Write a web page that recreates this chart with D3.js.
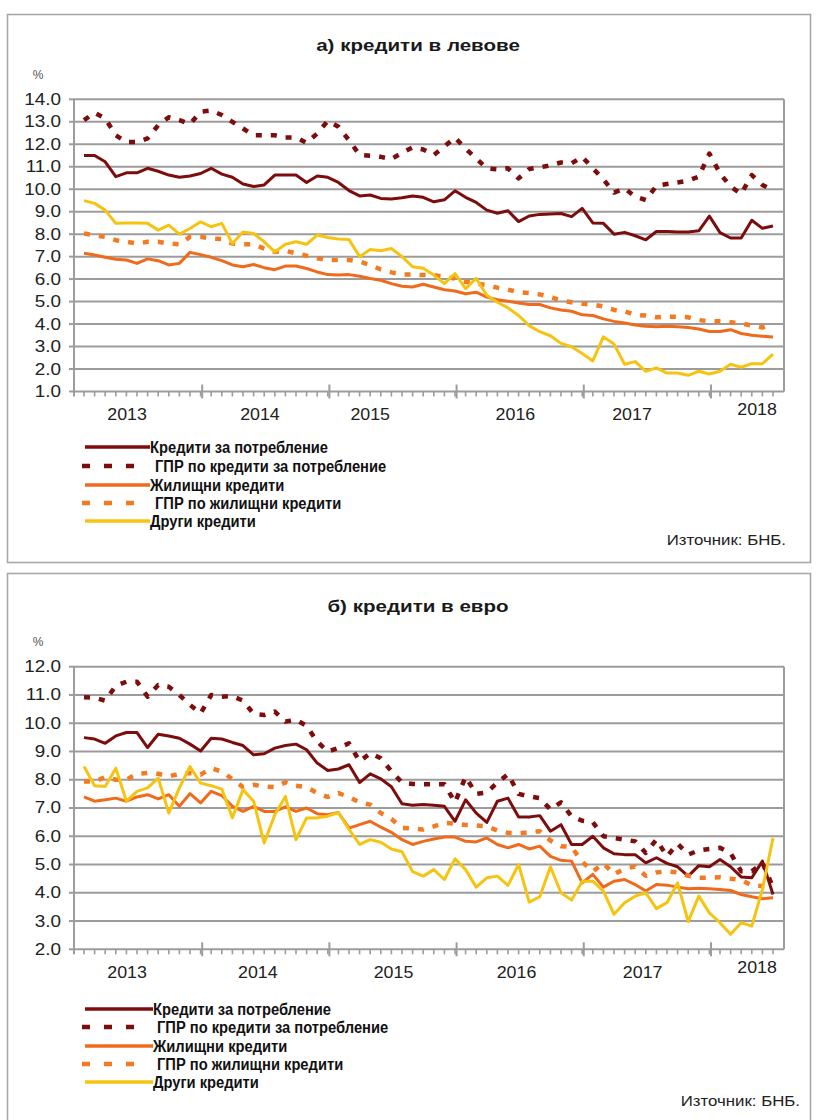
<!DOCTYPE html>
<html><head><meta charset="utf-8">
<script src="https://cdn.jsdelivr.net/npm/d3@7"></script>
<style>body{margin:0;background:#fff} svg{display:block}</style>
</head><body>
<svg id="c" width="817" height="1120"></svg>
<script>
// ---------- DATA ----------
const seriesNames = ["Кредити за потребление","ГПР по кредити за потребление","Жилищни кредити","ГПР по жилищни кредити","Други кредити"];
const yearLabels = ["2013","2014","2015","2016","2017","2018"];
const yearStarts = [12,24,36,48,60]; // month index where each new year begins (Jan 2013 = 0)
const nMonths = 66; // Jan 2013 .. Jun 2018

// panel a) loans in leva
const levConsumer = [11.5,11.5,11.22,10.56,10.73,10.73,10.93,10.8,10.63,10.53,10.59,10.7,10.93,10.67,10.53,10.23,10.12,10.19,10.63,10.63,10.63,10.3,10.59,10.53,10.3,9.94,9.7,9.74,9.59,9.56,9.62,9.7,9.64,9.44,9.53,9.93,9.64,9.41,9.07,8.93,9.04,8.56,8.81,8.88,8.9,8.92,8.78,9.15,8.5,8.48,8.0,8.08,7.93,7.75,8.12,8.12,8.1,8.1,8.15,8.8,8.07,7.83,7.83,8.62,8.26,8.36];
const levConsumerAPR = [13.07,13.4,13.15,12.4,12.1,12.1,12.26,12.85,13.2,13.07,12.9,13.45,13.5,13.3,13.0,12.7,12.4,12.4,12.4,12.3,12.3,12.06,12.48,13.04,12.78,12.18,11.52,11.49,11.44,11.34,11.62,11.86,11.77,11.52,11.9,12.3,11.8,11.37,10.93,10.88,10.93,10.48,10.9,10.97,11.06,11.19,11.15,11.44,10.93,10.44,9.85,10.04,9.67,9.52,10.15,10.23,10.3,10.38,10.56,11.59,10.7,10.12,9.79,10.63,10.19,9.95];
const levHousing = [7.15,7.07,6.97,6.88,6.85,6.7,6.9,6.82,6.63,6.7,7.19,7.09,6.97,6.82,6.63,6.55,6.65,6.51,6.42,6.58,6.58,6.47,6.32,6.2,6.18,6.2,6.13,6.03,5.95,5.8,5.68,5.65,5.77,5.65,5.53,5.47,5.35,5.42,5.2,5.08,5.02,4.94,4.87,4.87,4.72,4.63,4.57,4.41,4.38,4.23,4.12,4.05,3.96,3.9,3.88,3.9,3.88,3.85,3.78,3.67,3.67,3.75,3.58,3.5,3.46,3.43];
const levHousingAPR = [8.03,7.95,7.88,7.73,7.66,7.58,7.66,7.66,7.58,7.55,7.88,7.88,7.8,7.78,7.58,7.55,7.55,7.36,7.21,7.26,7.15,7.04,6.93,6.85,6.85,6.85,6.78,6.63,6.43,6.3,6.2,6.2,6.18,6.18,6.1,6.03,5.88,5.8,5.73,5.62,5.53,5.42,5.38,5.32,5.2,5.05,4.97,4.9,4.87,4.78,4.63,4.57,4.41,4.38,4.3,4.33,4.33,4.3,4.18,4.12,4.12,4.08,4.03,3.93,3.85,4.03];
const levOther = [9.49,9.37,9.07,8.48,8.5,8.5,8.48,8.18,8.4,8.0,8.25,8.55,8.33,8.48,7.58,8.1,8.03,7.66,7.21,7.55,7.66,7.55,7.96,7.85,7.78,7.76,7.0,7.32,7.26,7.36,7.0,6.55,6.48,6.18,5.8,6.25,5.58,6.03,5.28,4.97,4.72,4.38,3.93,3.66,3.48,3.14,2.99,2.69,2.36,3.43,3.11,2.21,2.33,1.9,2.05,1.82,1.82,1.72,1.9,1.78,1.9,2.21,2.08,2.24,2.24,2.66];

// panel b) loans in euro
const eurConsumer = [9.49,9.44,9.29,9.55,9.67,9.67,9.14,9.61,9.55,9.47,9.26,9.02,9.47,9.44,9.32,9.21,8.88,8.92,9.12,9.21,9.26,9.06,8.59,8.33,8.38,8.53,7.9,8.21,8.03,7.75,7.15,7.1,7.12,7.1,7.06,6.53,7.29,6.82,6.49,7.24,7.35,6.68,6.68,6.73,6.18,6.41,5.71,5.71,6.0,5.59,5.38,5.35,5.35,5.06,5.24,5.04,4.92,4.59,4.96,4.92,5.18,4.92,4.56,4.53,5.12,3.94];
const eurConsumerAPR = [10.92,10.9,10.8,11.32,11.47,11.47,10.94,11.35,11.29,11.0,10.65,10.35,11.0,10.94,10.96,10.8,10.33,10.29,10.41,10.06,10.12,9.91,9.35,9.0,9.12,9.29,8.65,8.94,8.76,8.3,7.9,7.85,7.84,7.84,7.84,7.2,8.1,7.5,7.55,7.9,8.2,7.5,7.41,7.35,6.95,7.2,6.7,6.55,6.5,6.0,5.94,5.88,5.82,5.41,5.88,5.29,5.74,5.35,5.5,5.55,5.59,5.4,4.76,4.76,5.06,4.2];
const eurHousing = [7.39,7.24,7.29,7.35,7.24,7.39,7.47,7.32,7.47,7.06,7.51,7.18,7.59,7.44,7.06,6.88,7.06,6.88,6.88,7.04,6.88,7.0,6.8,6.76,6.84,6.29,6.41,6.53,6.32,6.14,5.88,5.71,5.82,5.9,5.97,5.97,5.82,5.8,5.94,5.71,5.59,5.71,5.55,5.65,5.29,5.15,5.12,4.35,4.65,4.2,4.41,4.47,4.29,4.06,4.29,4.27,4.2,4.14,4.16,4.14,4.12,4.08,3.94,3.86,3.79,3.82];
const eurHousingAPR = [7.94,7.94,8.09,8.0,8.0,8.21,8.24,8.21,8.12,8.21,8.24,8.18,8.41,8.29,8.02,7.74,7.82,7.76,7.74,7.91,7.79,7.74,7.53,7.39,7.53,7.39,7.2,7.12,6.82,6.61,6.29,6.28,6.24,6.35,6.47,6.45,6.4,6.38,6.35,6.2,6.12,6.1,6.14,6.18,5.85,5.65,5.62,5.1,4.75,5.05,4.65,4.85,4.93,4.6,4.72,4.76,4.72,4.6,4.53,4.53,4.55,4.5,4.45,4.26,4.24,4.25];
const eurOther = [8.47,7.79,7.76,8.41,7.24,7.59,7.71,8.06,6.82,7.71,8.47,7.88,7.79,7.67,6.65,7.65,7.24,5.76,6.76,7.41,5.88,6.65,6.65,6.71,6.84,6.24,5.71,5.88,5.79,5.55,5.45,4.75,4.59,4.82,4.47,5.2,4.82,4.2,4.53,4.59,4.26,5.0,3.67,3.86,4.92,4.0,3.74,4.41,4.41,4.06,3.24,3.65,3.88,4.0,3.44,3.65,4.35,2.98,3.88,3.29,2.94,2.53,2.94,2.82,4.12,5.94];

const levTicks = [1,2,3,4,5,6,7,8,9,10,11,12,13,14];
const eurTicks = [2,3,4,5,6,7,8,9,10,11,12];
// year label positions on the month axis (as drawn in the source)
const levYearPos = [4.06,16.6,27.0,40.7,51.7,63.5];
const eurYearPos = [4.06,16.4,29.2,40.8,52.7,63.5];

// ---------- STYLE ----------
const colors = ["#7d0c0c","#7d0c0c","#f06a1c","#f47a22","#f6c410"];
const dashed = [false,true,false,true,false];
const svg = d3.select("#c");

function txt(g, x, y, s, o){
  return g.append("text")
    .attr("transform", `translate(${x},${y}) scale(${o.sx||1},1)`)
    .attr("text-anchor", o.anchor||"start")
    .attr("dominant-baseline","central")
    .attr("font-family", o.family||"'Liberation Sans', Arial, sans-serif")
    .attr("font-size", o.size||14)
    .attr("font-weight", o.weight||"normal")
    .attr("fill", o.fill||"#1a1a1a")
    .text(s);
}

function panel(cfg){
  const g = svg.append("g");
  // frame
  g.append("rect").attr("x",7.5).attr("y",cfg.frameTop).attr("width",803).attr("height",cfg.frameH)
    .attr("fill","#fff").attr("stroke","#a8a8a8").attr("stroke-width",1.6);
  txt(g, 418, cfg.titleY, cfg.title, {size:17, weight:"bold", anchor:"middle", sx:1.21});
  txt(g, 38, cfg.pctY, "%", {size:12, anchor:"middle", fill:"#555"});

  const x = d3.scaleLinear().domain([0, nMonths-1]).range([84, 773]);
  const y = d3.scaleLinear().domain(cfg.yDomain).range([cfg.yBottom, cfg.yTop]);
  const L = 74, R = 784;

  // gridlines
  g.selectAll(".grid").data(cfg.ticks).join("line")
    .attr("x1",L).attr("x2",R).attr("y1",d=>y(d)).attr("y2",d=>y(d))
    .attr("stroke","#9c9c9c").attr("stroke-width",2);
  // right border + left axis
  g.append("line").attr("x1",R).attr("x2",R).attr("y1",y(cfg.yDomain[1])).attr("y2",y(cfg.yDomain[0]))
    .attr("stroke","#9c9c9c").attr("stroke-width",2);
  g.append("line").attr("x1",L).attr("x2",L).attr("y1",y(cfg.yDomain[1])).attr("y2",y(cfg.yDomain[0])+5)
    .attr("stroke","#9c9c9c").attr("stroke-width",2);
  // left ticks + labels
  g.selectAll(".lt").data(cfg.ticks).join("line")
    .attr("x1",L-5).attr("x2",L).attr("y1",d=>y(d)).attr("y2",d=>y(d))
    .attr("stroke","#9c9c9c").attr("stroke-width",2);
  cfg.ticks.forEach(t => txt(g, 61, y(t), d3.format(".1f")(t), {size:16, anchor:"end", sx:1.18, fill:"#222"}));
  // bottom minor/major ticks
  const yb = y(cfg.yDomain[0]);
  g.selectAll(".mt").data(d3.range(nMonths)).join("line")
    .attr("x1",d=>x(d)).attr("x2",d=>x(d)).attr("y1",yb).attr("y2",yb+5)
    .attr("stroke","#9c9c9c").attr("stroke-width",1.6);
  g.selectAll(".Mt").data(yearStarts).join("line")
    .attr("x1",d=>x(d-0.85)).attr("x2",d=>x(d-0.85)).attr("y1",yb-7).attr("y2",yb+7)
    .attr("stroke","#9c9c9c").attr("stroke-width",2);
  yearLabels.forEach((lab,i)=>{
    txt(g, x(cfg.yearPos[i]), yb + (i===5 ? 18 : 23), lab, {size:16.5, anchor:"middle", sx:1.08, fill:"#222"});
  });

  // series
  const line = d3.line().x((d,i)=>x(i)).y(d=>y(d)).curve(d3.curveLinear);
  cfg.series.forEach((s,k)=>{
    g.append("path").datum(s).attr("d",line).attr("fill","none")
      .attr("stroke",colors[k])
      .attr("stroke-width", dashed[k] ? 4.5 : 3)
      .attr("stroke-dasharray", dashed[k] ? "6,9" : null)
      .attr("stroke-linejoin","round");
  });

  // legend
  cfg.legendY.forEach((ly,k)=>{
    if (dashed[k]) {
      g.append("line").attr("x1",82).attr("x2",137).attr("y1",ly).attr("y2",ly)
        .attr("stroke",colors[k]).attr("stroke-width",4.5).attr("stroke-dasharray","8,14");
    } else {
      g.append("line").attr("x1",85).attr("x2",cfg.legSolidEnd).attr("y1",ly).attr("y2",ly)
        .attr("stroke",colors[k]).attr("stroke-width",3.5);
    }
    txt(g, dashed[k] ? cfg.legDashText : cfg.legSolidEnd, ly, seriesNames[k], {size:16, weight:"bold", sx:0.92, fill:"#111"});
  });
  txt(g, cfg.srcX, cfg.srcY, "Източник: БНБ.", {size:14.5, anchor:"end", sx:1.16, fill:"#222"});
}

panel({
  frameTop:14.5, frameH:548, title:"а) кредити в левове", titleY:45, pctY:75,
  yDomain:[1,14], yTop:99.3, yBottom:391.5, ticks:levTicks, yearPos:levYearPos,
  series:[levConsumer, levConsumerAPR, levHousing, levHousingAPR, levOther],
  legendY:[447,466,485,503,521], legSolidEnd:150, legDashText:155, srcX:786, srcY:540
});
panel({
  frameTop:573.5, frameH:560, title:"б) кредити в евро", titleY:606, pctY:642,
  yDomain:[2,12], yTop:666.7, yBottom:949.3, ticks:eurTicks, yearPos:eurYearPos,
  series:[eurConsumer, eurConsumerAPR, eurHousing, eurHousingAPR, eurOther],
  legendY:[1009,1027,1046,1064,1082], legSolidEnd:153, legDashText:157, srcX:800, srcY:1101
});
</script>
</body></html>
